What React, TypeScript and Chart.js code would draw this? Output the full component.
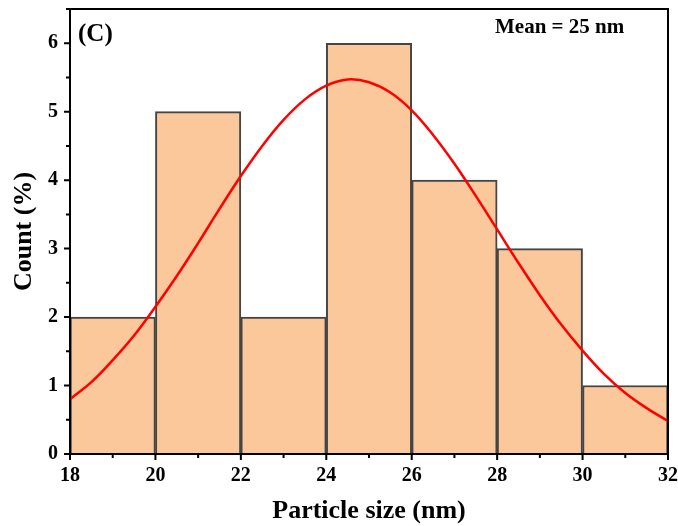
import React, { useEffect, useRef } from "react";
import { Chart, registerables } from "chart.js";

Chart.register(...registerables);

const binCenters = [19, 21, 23, 25, 27, 29, 31];
const binCounts = [2, 5, 2, 6, 4, 3, 1];
const curveX = [18, 18.5, 19, 19.5, 20, 20.5, 21, 21.5, 22, 22.5, 23, 23.5, 24, 24.5, 25, 25.5, 26, 26.5, 27, 27.5, 28, 28.5, 29, 29.5, 30, 30.5, 31, 31.5, 32];
const curveY = [0.8, 1.05, 1.37, 1.73, 2.15, 2.6, 3.08, 3.58, 4.06, 4.5, 4.88, 5.18, 5.38, 5.47, 5.43, 5.28, 5.02, 4.66, 4.24, 3.77, 3.28, 2.79, 2.32, 1.89, 1.51, 1.17, 0.89, 0.67, 0.48];
const xTicks = [18, 20, 22, 24, 26, 28, 30, 32];
const yTicks = [0, 1, 2, 3, 4, 5, 6];
const panelLabel = "(C)";
const meanLabel = "Mean = 25 nm";
const xTitle = "Particle size (nm)";
const yTitle = "Count (%)";

const FONT = "'Liberation Serif', 'Times New Roman', serif";

const framePlugin = {
  id: "frame",
  afterDatasetsDraw(chart: any) {
    const { ctx, chartArea: a, scales } = chart;
    const xs = scales.x;
    const ys = scales.y;
    ctx.save();
    ctx.strokeStyle = "#000";
    ctx.lineWidth = 2;
    ctx.strokeRect(a.left, a.top, a.right - a.left, a.bottom - a.top);
    ctx.beginPath();
    for (let v = 18; v <= 32; v += 1) {
      const px = xs.getPixelForValue(v);
      const len = v % 2 === 0 ? 6 : 4;
      ctx.moveTo(px, a.bottom);
      ctx.lineTo(px, a.bottom + len);
    }
    for (let v = 0; v <= 6.5; v += 0.5) {
      const py = ys.getPixelForValue(v);
      const len = Number.isInteger(v) ? 6 : 4;
      ctx.moveTo(a.left, py);
      ctx.lineTo(a.left - len, py);
    }
    ctx.stroke();
    ctx.fillStyle = "#000";
    ctx.textBaseline = "middle";
    ctx.textAlign = "left";
    ctx.font = `bold 25px ${FONT}`;
    ctx.fillText(panelLabel, a.left + 8, 35);
    ctx.font = `bold 21px ${FONT}`;
    ctx.fillText(meanLabel, 495, 28);
    ctx.font = `bold 26px ${FONT}`;
    ctx.textAlign = "center";
    ctx.fillText(xTitle, (a.left + a.right) / 2, 511);
    ctx.save();
    ctx.translate(24, (a.top + a.bottom) / 2);
    ctx.rotate(-Math.PI / 2);
    ctx.fillText(yTitle, 0, 0);
    ctx.restore();
    ctx.restore();
  },
};

export default function App() {
  const ref = useRef<HTMLCanvasElement>(null);
  useEffect(() => {
    document.body.style.margin = "0";
    const chart = new Chart(ref.current as HTMLCanvasElement, {
      type: "bar",
      data: {
        datasets: [
          {
            type: "line",
            data: curveX.map((x, i) => ({ x, y: curveY[i] })),
            borderColor: "#ff0000",
            borderWidth: 2.5,
            pointRadius: 0,
            tension: 0.4,
            fill: false,
            order: 0,
          } as any,
          {
            type: "bar",
            data: binCenters.map((x, i) => ({ x, y: binCounts[i] })),
            backgroundColor: "#fac89a",
            borderColor: "#454545",
            borderWidth: 2,
            barPercentage: 1,
            categoryPercentage: 1,
            order: 1,
          } as any,
        ],
      },
      options: {
        animation: false,
        responsive: false,
        layout: { padding: { top: 9, right: 10, left: 0, bottom: 0 } },
        plugins: { legend: { display: false }, tooltip: { enabled: false } },
        scales: {
          x: {
            type: "linear",
            min: 18,
            max: 32,
            offset: false,
            grid: { display: false, drawTicks: false },
            border: { display: false },
            afterBuildTicks: (s: any) => {
              s.ticks = xTicks.map((v) => ({ value: v }));
            },
            afterFit: (s: any) => {
              s.height = 72;
              s.paddingLeft = 0;
              s.paddingRight = 0;
            },
            ticks: {
              padding: 10,
              color: "#000",
              font: { family: FONT, size: 20, weight: "bold" },
              maxRotation: 0,
            },
          },
          y: {
            type: "linear",
            min: 0,
            max: 6.5,
            grid: { display: false, drawTicks: false },
            border: { display: false },
            afterBuildTicks: (s: any) => {
              s.ticks = yTicks.map((v) => ({ value: v }));
            },
            afterFit: (s: any) => {
              s.width = 70;
              s.paddingTop = 0;
              s.paddingBottom = 0;
            },
            ticks: {
              padding: 12,
              color: "#000",
              font: { family: FONT, size: 20, weight: "bold" },
            },
          },
        },
      },
      plugins: [framePlugin],
    });
    return () => chart.destroy();
  }, []);
  return (
    <div style={{ width: 678, height: 526 }}>
      <canvas ref={ref} width={678} height={526} />
    </div>
  );
}
